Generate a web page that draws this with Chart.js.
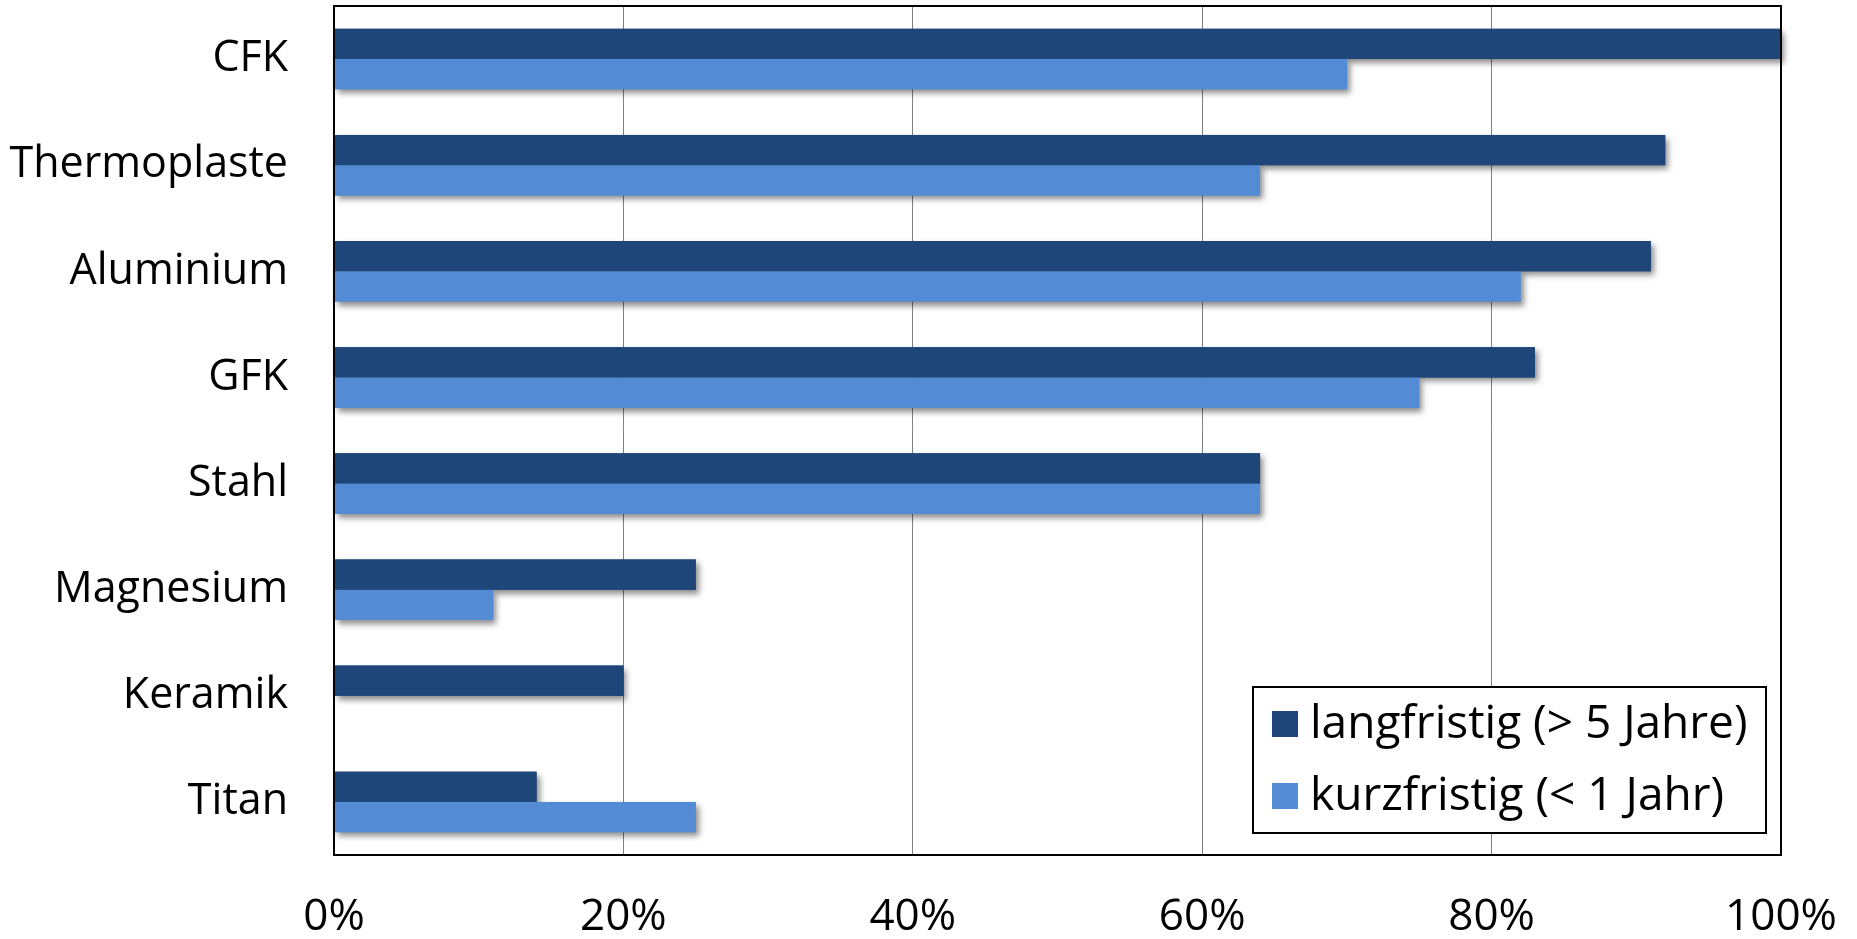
<!DOCTYPE html>
<html>
<head>
<meta charset="utf-8">
<script src="https://cdn.jsdelivr.net/npm/chart.js@4/dist/chart.umd.min.js"></script>
<style>
  html, body { margin: 0; padding: 0; background: #ffffff; }
  #wrap { width: 1857px; height: 939px; }
</style>
</head>
<body>
<div id="wrap"><canvas id="c" width="1857" height="939"></canvas></div>
<script>
const categories = ['CFK', 'Thermoplaste', 'Aluminium', 'GFK', 'Stahl', 'Magnesium', 'Keramik', 'Titan'];
const langfristig = [100, 92, 91, 83, 64, 25, 20, 14];
const kurzfristig = [70, 64, 82, 75, 64, 11, 0, 25];
const seriesLabels = ['langfristig (> 5 Jahre)', 'kurzfristig (< 1 Jahr)'];
const xTicks = [0, 20, 40, 60, 80, 100];

const FONT = '"Open Sans", "Noto Sans", sans-serif';
const FSIZE = 43;
const LSIZE = 46;

const shadowPlugin = {
  id: 'barShadow',
  beforeDatasetsDraw(chart) {
    const ctx = chart.ctx;
    ctx.save();
    ctx.shadowColor = 'rgba(0,0,0,0.45)';
    ctx.shadowBlur = 6;
    ctx.shadowOffsetX = 3;
    ctx.shadowOffsetY = 4;
    chart.data.datasets.forEach((ds, i) => {
      const meta = chart.getDatasetMeta(i);
      meta.data.forEach(bar => {
        const p = bar.getProps(['x', 'y', 'base', 'height'], true);
        const w = Math.abs(p.x - p.base);
        if (w < 1) return;
        ctx.fillStyle = ds.backgroundColor;
        ctx.fillRect(Math.min(p.x, p.base), p.y - p.height / 2, w, p.height);
      });
    });
    ctx.restore();
  }
};

const frameLegendPlugin = {
  id: 'frameLegend',
  afterDraw(chart) {
    const ctx = chart.ctx;
    const a = chart.chartArea;
    ctx.save();
    ctx.strokeStyle = '#000000';
    ctx.lineWidth = 2;
    ctx.strokeRect(a.left, a.top, a.right - a.left, a.bottom - a.top);

    // legend box
    const bx = 1253, by = 687, bw = 513, bh = 146;
    ctx.fillStyle = '#ffffff';
    ctx.fillRect(bx, by, bw, bh);
    ctx.lineWidth = 2;
    ctx.strokeRect(bx, by, bw, bh);
    ctx.font = LSIZE + 'px ' + FONT;
    ctx.textBaseline = 'middle';
    ctx.textAlign = 'left';
    chart.data.datasets.forEach((ds, i) => {
      const cy = 724 + i * 72;
      ctx.fillStyle = ds.backgroundColor;
      ctx.fillRect(1272, cy - 13, 26, 26);
      ctx.fillStyle = '#000000';
      ctx.fillText(ds.label, 1310, cy + 1);
    });
    ctx.restore();
  }
};

new Chart(document.getElementById('c'), {
  type: 'bar',
  data: {
    labels: categories,
    datasets: [
      { label: seriesLabels[0], data: langfristig, backgroundColor: '#1F4678', borderWidth: 0,
        categoryPercentage: 0.57, barPercentage: 1.0 },
      { label: seriesLabels[1], data: kurzfristig, backgroundColor: '#538CD5', borderWidth: 0,
        categoryPercentage: 0.57, barPercentage: 1.0 }
    ]
  },
  options: {
    indexAxis: 'y',
    responsive: false,
    animation: false,
    layout: { padding: { top: 6, right: 76, left: 0, bottom: 0 } },
    plugins: {
      legend: { display: false },
      tooltip: { enabled: false }
    },
    scales: {
      x: {
        min: 0, max: 100,
        afterFit(scale) { scale.height = 84; scale.paddingLeft = 0; scale.paddingRight = 0; },
        afterBuildTicks(scale) { scale.ticks = xTicks.map(v => ({ value: v })); },
        grid: { color: '#808080', lineWidth: 1, drawTicks: false },
        border: { display: false },
        ticks: {
          padding: 36,
          color: '#000000',
          font: { family: FONT, size: FSIZE + 1 },
          callback: v => v + '%',
          maxRotation: 0,
          autoSkip: false
        }
      },
      y: {
        afterFit(scale) { scale.width = 334; scale.paddingTop = 0; scale.paddingBottom = 0; },
        grid: { display: false, drawTicks: false },
        border: { display: false },
        ticks: {
          padding: 46,
          color: '#000000',
          font: { family: FONT, size: FSIZE }
        }
      }
    }
  },
  plugins: [shadowPlugin, frameLegendPlugin]
});
</script>
</body>
</html>
